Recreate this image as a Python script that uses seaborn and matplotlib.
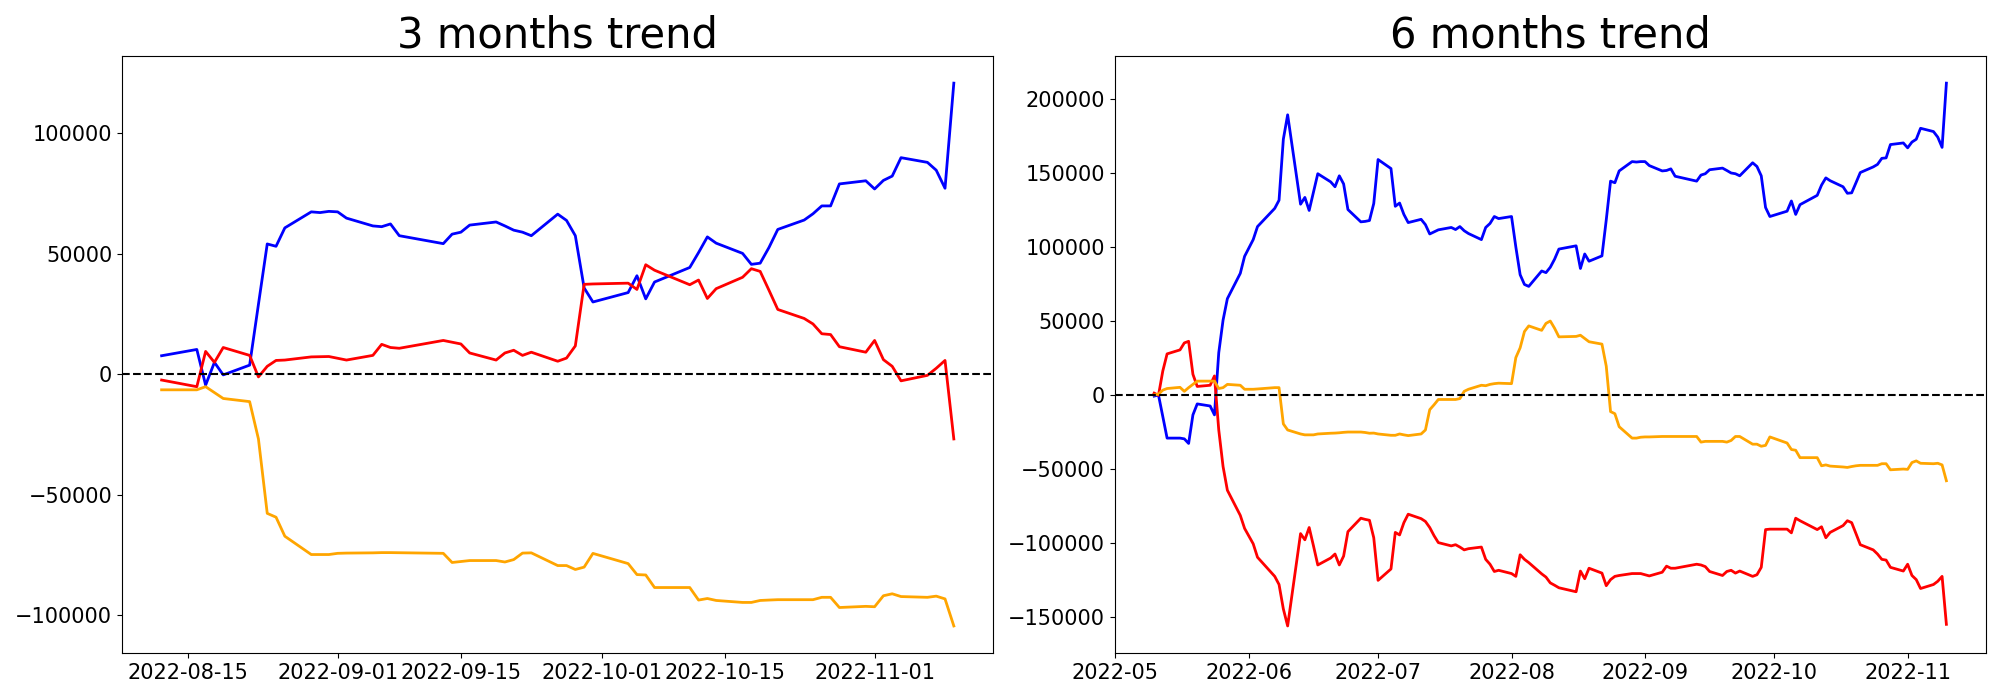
import matplotlib
matplotlib.use("Agg")
import matplotlib.pyplot as plt
import seaborn as sns
import pandas as pd

# ---------------- 3 months data ----------------
dates_3m = [
    "2022-08-12", "2022-08-16", "2022-08-17", "2022-08-18", "2022-08-19", "2022-08-22", "2022-08-23",
    "2022-08-24", "2022-08-25", "2022-08-26", "2022-08-29", "2022-08-30", "2022-08-31",
    "2022-09-01", "2022-09-02", "2022-09-05", "2022-09-06", "2022-09-07", "2022-09-08", "2022-09-13",
    "2022-09-14", "2022-09-15", "2022-09-16", "2022-09-19", "2022-09-20", "2022-09-21", "2022-09-22",
    "2022-09-23", "2022-09-26", "2022-09-27", "2022-09-28", "2022-09-29", "2022-09-30",
    "2022-10-04", "2022-10-05", "2022-10-06", "2022-10-07", "2022-10-11", "2022-10-12", "2022-10-13",
    "2022-10-14", "2022-10-17", "2022-10-18", "2022-10-19", "2022-10-20", "2022-10-21", "2022-10-24",
    "2022-10-25", "2022-10-26", "2022-10-27", "2022-10-28", "2022-10-31",
    "2022-11-01", "2022-11-02", "2022-11-03", "2022-11-04", "2022-11-07", "2022-11-08", "2022-11-09",
    "2022-11-10",
]
blue_3m = [
    7650, 10260, -4560, 4900, -300, 3750, 29000, 54070, 53100, 60750, 67400, 67100, 67600,
    67400, 64800, 61560, 61240, 62380, 57500, 54200, 58140, 58960, 61900, 63200, 61560, 59800, 58960,
    57500, 66450, 63840, 57500, 35830, 29970,
    33880, 40880, 31270, 38270, 44300, 50490, 57000, 54400, 50160, 45600, 46090, 52600, 60100, 64000,
    66600, 69870, 69870, 79000, 80300,
    76900, 80460, 82250, 89900, 87950, 84700, 77200, 120850,
]
red_3m = [
    -2440, -5200, 9450, 4900, 11070, 7800, -1140, 3260, 5700, 5860, 7170, 7250, 7330,
    6600, 5860, 7800, 12380, 11070, 10750, 14000, 13270, 12540, 8800, 5860, 8800, 9930, 7800,
    9120, 5370, 6680, 11730, 37300, 37460,
    37790, 35180, 45440, 43160, 37140, 39090, 31430, 35500, 40230, 43800, 42670, 34850, 26870, 23130,
    20850, 16780, 16450, 11400, 9120,
    14000, 6030, 3260, -2770, -490, 2440, 5700, -26900,
]
orange_3m = [
    -6500, -6500, -5200, -7650, -10100, -11400, -26900, -57800, -59400, -67300, -74900, -74900, -74900,
    -74400, -74300, -74200, -74100, -74100, -74150, -74400, -78200, -77800, -77400, -77400, -78000,
    -77000, -74300, -74200, -79480, -79480, -81110, -80130, -74430,
    -78660, -83220, -83390, -88600, -88600, -93810, -93160, -93970, -94790, -94790, -93970, -93800,
    -93650, -93650, -93650, -92670, -92670, -96900, -96420,
    -96580, -92020, -91200, -92350, -92670, -92180, -93320, -104560,
]

# ---------------- 6 months data ----------------
dates_6m = [
    "2022-05-10", "2022-05-11", "2022-05-12", "2022-05-13", "2022-05-16", "2022-05-17", "2022-05-18",
    "2022-05-19", "2022-05-20", "2022-05-23", "2022-05-24", "2022-05-25", "2022-05-26", "2022-05-27",
    "2022-05-30", "2022-05-31",
    "2022-06-02", "2022-06-03", "2022-06-07", "2022-06-08", "2022-06-09", "2022-06-10", "2022-06-13",
    "2022-06-14", "2022-06-15", "2022-06-16", "2022-06-17", "2022-06-20", "2022-06-21", "2022-06-22",
    "2022-06-23", "2022-06-24", "2022-06-27", "2022-06-28", "2022-06-29", "2022-06-30",
    "2022-07-01", "2022-07-04", "2022-07-05", "2022-07-06", "2022-07-07", "2022-07-08", "2022-07-11",
    "2022-07-12", "2022-07-13", "2022-07-14", "2022-07-15", "2022-07-18", "2022-07-19", "2022-07-20",
    "2022-07-21", "2022-07-22", "2022-07-25", "2022-07-26", "2022-07-27", "2022-07-28", "2022-07-29",
    "2022-08-01", "2022-08-02", "2022-08-03", "2022-08-04", "2022-08-05", "2022-08-08", "2022-08-09",
    "2022-08-10", "2022-08-11", "2022-08-12", "2022-08-16", "2022-08-17", "2022-08-18", "2022-08-19",
    "2022-08-22", "2022-08-23", "2022-08-24", "2022-08-25", "2022-08-26", "2022-08-29", "2022-08-30",
    "2022-08-31",
    "2022-09-01", "2022-09-02", "2022-09-05", "2022-09-06", "2022-09-07", "2022-09-08", "2022-09-13",
    "2022-09-14", "2022-09-15", "2022-09-16", "2022-09-19", "2022-09-20", "2022-09-21", "2022-09-22",
    "2022-09-23", "2022-09-26", "2022-09-27", "2022-09-28", "2022-09-29", "2022-09-30",
    "2022-10-04", "2022-10-05", "2022-10-06", "2022-10-07", "2022-10-11", "2022-10-12", "2022-10-13",
    "2022-10-14", "2022-10-17", "2022-10-18", "2022-10-19", "2022-10-20", "2022-10-21", "2022-10-24",
    "2022-10-25", "2022-10-26", "2022-10-27", "2022-10-28", "2022-10-31",
    "2022-11-01", "2022-11-02", "2022-11-03", "2022-11-04", "2022-11-07", "2022-11-08", "2022-11-09",
    "2022-11-10",
]
blue_6m = [
    -1000, -300, -14800, -29400, -29400, -29900, -33000, -13700, -6300, -7700, -13700, 28300, 50300,
    64800, 81900, 93400,
    104700, 113500, 125800, 131300, 172500, 189000, 128600, 133200, 124400, 136800, 149200, 143700,
    140400, 147800, 142300, 125000, 116700, 117000, 117600, 129100,
    158800, 152700, 127200, 129400, 121700, 116200, 118400, 114800, 108500, 109900, 111300, 112900,
    111500, 113500, 110700, 108800, 104700, 112900, 115600, 120300, 118900,
    120300, 99700, 81000, 74400, 73100, 83500, 82400, 86000, 91500, 98300, 100500, 85200, 95000,
    90100, 93700, 118000, 144200, 143100, 151100, 157400, 157100, 157400,
    157400, 154700, 151100, 151400, 152500, 147500, 144200, 148300, 149200, 151900, 153000, 151400,
    149700, 149200, 147800, 156600, 154100, 147800, 126400, 120300,
    123900, 130800, 121700, 128300, 134600, 141500, 146400, 144500, 140400, 136000, 136300, 143100,
    150000, 153800, 155500, 159600, 159900, 168900, 170000,
    166700, 170600, 172500, 179900, 177700, 173900, 167000, 210400,
]
red_6m = [
    1000, -500, 15900, 27500, 30200, 34900, 36000, 13700, 5500, 6300, 12600, -23900, -48600,
    -64600, -81600, -90400,
    -100800, -109900, -122800, -128300, -144800, -156300, -93900, -98100, -89800, -102200, -115100,
    -110400, -107700, -115100, -109100, -92600, -83500, -84300, -84900, -96700,
    -125500, -117800, -93100, -94800, -86500, -80800, -83800, -85700, -89800, -95300, -100000,
    -102200, -101400, -103000, -104900, -104100, -103000, -111300, -114600, -119500, -118700,
    -120900, -122800, -108200, -111300, -113500, -121100, -123300, -127200, -128800, -130500,
    -133200, -119200, -124400, -117300, -120600, -129100, -125000, -122800, -122200, -120900,
    -120900, -120900,
    -121700, -122500, -120000, -115900, -117300, -117300, -114600, -115100, -116200, -119500,
    -122200, -119500, -118700, -120600, -119200, -122800, -121700, -116700, -91200, -90900,
    -90900, -93400, -83500, -85200, -91200, -89300, -96700, -93100, -88500, -85200, -86500, -93900,
    -101400, -104900, -107700, -111300, -111800, -116700, -119200,
    -114600, -122200, -125000, -131000, -128300, -126100, -122800, -155200,
]
orange_6m = [
    -200, 300, 3000, 4100, 4900, 2200, 4700, 6900, 9100, 9100, 9100, 4100, 4700, 6900, 6300, 3600,
    3600, 3800, 4700, 4700, -19800, -23900, -26600, -27200, -27200, -27200, -26600, -26100, -26000,
    -25800, -25500, -25300, -25300, -25600, -26100, -26000,
    -26600, -27500, -27500, -26600, -27200, -27700, -26600, -23900, -10200, -6900, -3300, -3300,
    -3300, -2700, 2200, 3600, 6300, 6000, 6900, 7400, 7700,
    7400, 25000, 31600, 42600, 46400, 43400, 48100, 49700, 44800, 39000, 39300, 40100, 37900, 35700,
    34100, 19200, -11500, -12900, -21700, -29400, -29400, -28800,
    -28600, -28600, -28300, -28300, -28300, -28300, -28300, -32100, -31600, -31600, -31600, -32100,
    -31000, -28300, -28300, -33500, -33500, -34900, -34300, -28600,
    -32700, -37100, -37600, -42600, -42600, -48100, -47500, -48300, -48900, -49200, -48600, -48100,
    -47800, -47800, -47800, -46700, -46700, -50800, -50300,
    -50500, -45900, -44800, -46400, -46700, -46400, -47500, -58200,
]

titles = ["3 months trend", "6 months trend"]
series_colors = ["blue", "red", "orange"]

fig, axes = plt.subplots(1, 2, figsize=(20, 7), dpi=100)
fig.subplots_adjust(left=0.061, right=0.993, bottom=0.067, top=0.92, wspace=0.139)

panels = [
    (dates_3m, [blue_3m, red_3m, orange_3m]),
    (dates_6m, [blue_6m, red_6m, orange_6m]),
]

for ax, title, (dates, series) in zip(axes, titles, panels):
    x = pd.to_datetime(dates)
    for vals, col in zip(series, series_colors):
        sns.lineplot(x=x, y=vals, ax=ax, color=col, linewidth=2)
    ax.axhline(0, color="black", linestyle="--", linewidth=1.5)
    ax.set_title(title, fontsize=30)
    ax.set_xlabel("")
    ax.set_ylabel("")
    ax.tick_params(labelsize=15)

fig.savefig("out.png", dpi=100)
